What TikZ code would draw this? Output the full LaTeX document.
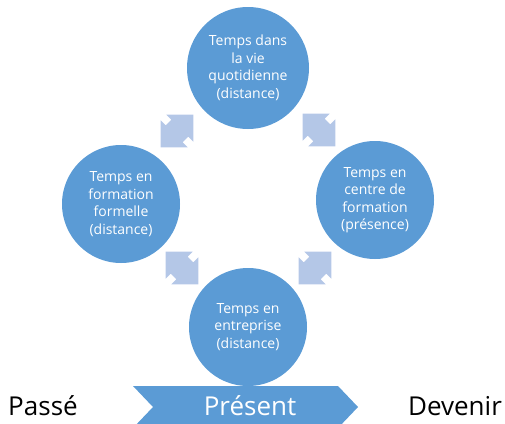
\documentclass[tikz,border=0pt]{standalone}
\usepackage{fontspec}
\setmainfont{Open Sans}
\definecolor{cycleblue}{HTML}{5B9BD5}
\definecolor{arrowblue}{HTML}{B4C7E7}
\def\cyclearrow(#1)(#2){\fill[arrowblue, shift={(#1)}, rotate=#2] (23,0) -- (4,19) -- (4,12) -- (-4,12) -- (-4,19) -- (-23,0) -- (-4,-19) -- (-4,-12) -- (4,-12) -- (4,-19) -- cycle;}
\tikzset{
  timebubble/.style={circle, fill=cycleblue, text=white, align=center, inner sep=0pt, font=\fontsize{14}{17.5}\selectfont},
  timeword/.style={anchor=base, inner sep=0pt, font=\fontsize{26}{30}\selectfont}
}

\begin{document}
\begin{tikzpicture}[x=1pt, y=-1pt]
			%%%%% START %%%%%
			\useasboundingbox (0,0) rectangle (505,423);
			
			\node[timebubble, minimum size=122pt] (quotidien) at (248,68) {Temps dans\\la vie\\quotidienne\\(distance)};
			\node[timebubble, minimum size=118pt] (formelle) at (121,204) {Temps en\\formation\\formelle\\(distance)};
			\node[timebubble, minimum size=118pt] (centre) at (375,200) {Temps en\\centre de\\formation\\(présence)};
			\node[timebubble, minimum size=118pt] (entreprise) at (248,327) {Temps en\\entreprise\\(distance)};
			
			\cyclearrow(177,131)(45)
			\cyclearrow(319,130)(-45)
			\cyclearrow(182,268)(-45)
			\cyclearrow(315,268)(45)
			
			\fill[cycleblue] (133,386) -- (338,386) -- (358,407) -- (338,428) -- (133,428) -- (153,407) -- cycle;
			\node[timeword, text=white] (present) at (250,415) {Présent};
			\node[timeword] (passe) at (43,415) {Passé};
			\node[timeword] (devenir) at (455,415) {Devenir};
			
			%%%%% END %%%%%
		\end{tikzpicture}
\end{document}
